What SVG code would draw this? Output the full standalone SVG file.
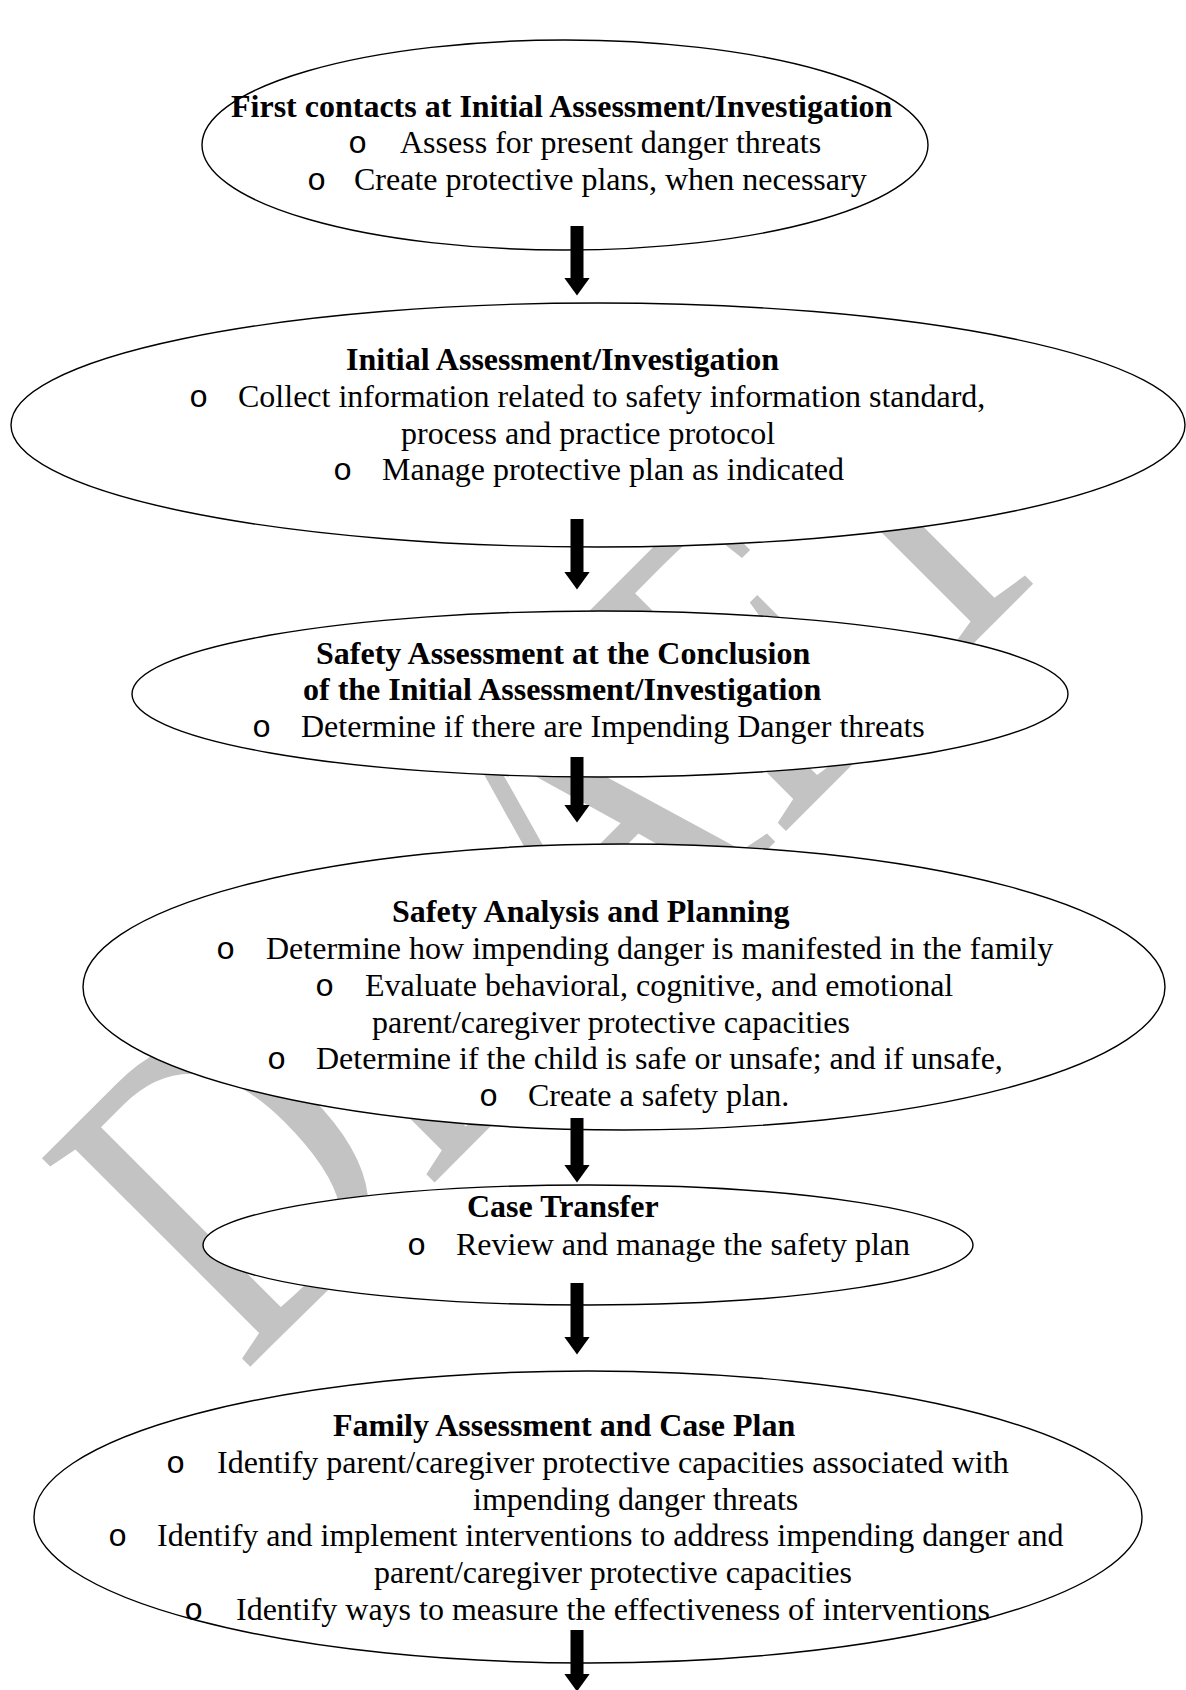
<svg xmlns="http://www.w3.org/2000/svg" width="1186" height="1690" viewBox="0 0 1186 1690">
<defs>
<style>
.t{font-family:"Liberation Serif","Times New Roman",serif;font-size:32px;fill:#000}
.b{font-weight:bold}
.bul{font-family:"Liberation Mono","Courier New",monospace;font-size:32px;fill:#000}
.shape{fill:#fff;stroke:#000;stroke-width:1.4}
.wm{font-family:"Liberation Serif","Times New Roman",serif;font-size:450px;fill:#c3c3c3}
.conn{stroke:#000;stroke-width:13;fill:none}
</style>
<marker id="ah" markerUnits="userSpaceOnUse" viewBox="0 0 18 26" markerWidth="18" markerHeight="26" refX="0.5" refY="13" orient="auto">
<path d="M0,0 L18,13 L0,26 Z" fill="#000"/>
</marker>
</defs>
<rect width="1186" height="1690" fill="#fff"/>
<text class="wm" transform="translate(243,1374) rotate(-45) scale(0.795,1)">DRAFT</text>

<g id="node-first-contacts">
<ellipse class="shape" cx="565" cy="145" rx="363" ry="105"/>
<text class="t b" x="231" y="117">First contacts at Initial Assessment/Investigation</text>
<text class="bul" x="348" y="153">o</text>
<text class="t" x="400" y="153">Assess for present danger threats</text>
<text class="bul" x="307" y="190">o</text>
<text class="t" x="354" y="190">Create protective plans, when necessary</text>
</g>

<g id="node-initial-assessment">
<ellipse class="shape" cx="598" cy="425" rx="587" ry="122"/>
<text class="t b" x="346" y="370">Initial Assessment/Investigation</text>
<text class="bul" x="189" y="407">o</text>
<text class="t" x="238" y="407">Collect information related to safety information standard,</text>
<text class="t" x="401" y="444">process and practice protocol</text>
<text class="bul" x="333" y="480">o</text>
<text class="t" x="382" y="480">Manage protective plan as indicated</text>
</g>

<g id="node-safety-assessment">
<ellipse class="shape" cx="600" cy="694" rx="468" ry="83"/>
<text class="t b" x="316" y="664">Safety Assessment at the Conclusion</text>
<text class="t b" x="303" y="700">of the Initial Assessment/Investigation</text>
<text class="bul" x="252" y="737">o</text>
<text class="t" x="301" y="737">Determine if there are Impending Danger threats</text>
</g>

<g id="node-safety-analysis">
<ellipse class="shape" cx="624" cy="987" rx="541" ry="143"/>
<text class="t b" x="392" y="922">Safety Analysis and Planning</text>
<text class="bul" x="216" y="959">o</text>
<text class="t" x="266" y="959">Determine how impending danger is manifested in the family</text>
<text class="bul" x="315" y="996">o</text>
<text class="t" x="365" y="996">Evaluate behavioral, cognitive, and emotional</text>
<text class="t" x="372" y="1033">parent/caregiver protective capacities</text>
<text class="bul" x="267" y="1069">o</text>
<text class="t" x="316" y="1069">Determine if the child is safe or unsafe; and if unsafe,</text>
<text class="bul" x="479" y="1106">o</text>
<text class="t" x="528" y="1106">Create a safety plan.</text>
</g>

<g id="node-case-transfer">
<ellipse class="shape" cx="588" cy="1245" rx="385" ry="60"/>
<text class="t b" x="467" y="1217">Case Transfer</text>
<text class="bul" x="407" y="1255">o</text>
<text class="t" x="456" y="1255">Review and manage the safety plan</text>
</g>

<g id="node-family-assessment">
<ellipse class="shape" cx="588" cy="1517" rx="554" ry="146"/>
<text class="t b" x="333" y="1436">Family Assessment and Case Plan</text>
<text class="bul" x="166" y="1473">o</text>
<text class="t" x="217" y="1473">Identify parent/caregiver protective capacities associated with</text>
<text class="t" x="473" y="1510">impending danger threats</text>
<text class="bul" x="108" y="1546">o</text>
<text class="t" x="157" y="1546">Identify and implement interventions to address impending danger and</text>
<text class="t" x="374" y="1583">parent/caregiver protective capacities</text>
<text class="bul" x="184" y="1620">o</text>
<text class="t" x="236" y="1620">Identify ways to measure the effectiveness of interventions</text>
</g>

<g id="connectors">
<line class="conn" x1="577" y1="226" x2="577" y2="278" marker-end="url(#ah)"/>
<line class="conn" x1="577" y1="519" x2="577" y2="572" marker-end="url(#ah)"/>
<line class="conn" x1="577" y1="757" x2="577" y2="805" marker-end="url(#ah)"/>
<line class="conn" x1="577" y1="1118" x2="577" y2="1165" marker-end="url(#ah)"/>
<line class="conn" x1="577" y1="1283" x2="577" y2="1337" marker-end="url(#ah)"/>
<line class="conn" x1="577" y1="1630" x2="577" y2="1674" marker-end="url(#ah)"/>
</g>
</svg>
